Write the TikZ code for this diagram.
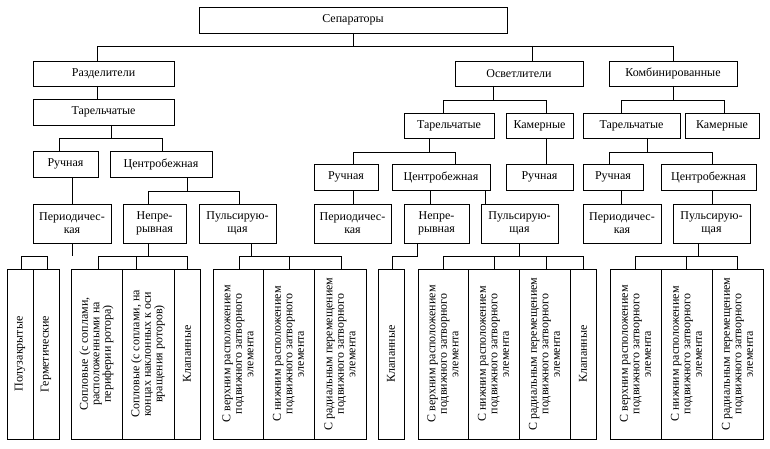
\documentclass[tikz,border=0pt]{standalone}
\usepackage{fontspec}
\setmainfont{Liberation Serif}
\begin{document}
\begin{tikzpicture}[x=1pt,y=-1pt,
  box/.style={draw,line width=0.8pt,inner sep=0pt,outer sep=0pt,align=center,
    font=\fontsize{12}{13}\selectfont},
  vbox/.style={box,rotate=90,minimum width=170pt,font=\fontsize{12}{11.5}\selectfont},
  conn/.style={line width=0.8pt}]
\fill[white] (0,0) rectangle (770,449);
\useasboundingbox (0,0) rectangle (770,449);
\newcommand\mkbox[6]{\node[box,anchor=north west,minimum width={(#4-#2)*1pt},minimum height={(#5-#3)*1pt}] (#1) at (#2,#3) {#6};}
\newcommand\mkvbox[4]{\node[vbox,minimum height={(#3-#2)*1pt}] (#1) at ({(#2+#3)/2},354) {#4};}
% level 0-1
\mkbox{sep}{199}{7}{507}{33}{Сепараторы}
\mkbox{raz}{33}{61}{174}{86}{Разделители}
\mkbox{osv}{455}{61}{583}{86}{Осветлители}
\mkbox{kom}{609}{61}{737}{86}{Комбинированные}
% level 2
\mkbox{tarA}{33}{99}{174}{125}{Тарельчатые}
\mkbox{tarB}{404}{113}{494}{138}{Тарельчатые}
\mkbox{kamB}{506}{113}{573}{138}{Камерные}
\mkbox{tarC}{583}{113}{680}{138}{Тарельчатые}
\mkbox{kamC}{685}{113}{759}{138}{Камерные}
% level 3
\mkbox{ruchA}{33}{151}{98}{177}{Ручная}
\mkbox{cenA}{110}{151}{212}{177}{Центробежная}
\mkbox{ruchB}{314}{164}{378}{190}{Ручная}
\mkbox{cenB}{392}{164}{490}{190}{Центробежная}
\mkbox{ruchK}{506}{164}{573}{190}{Ручная}
\mkbox{ruchC}{583}{164}{643}{190}{Ручная}
\mkbox{cenC}{661}{164}{756}{190}{Центробежная}
% level 4
\mkbox{perA}{33}{204}{111}{243}{Периодичес-\\кая}
\mkbox{nepA}{123}{204}{186}{243}{Непре-\\рывная}
\mkbox{pulA}{199}{204}{276}{243}{Пульсирую-\\щая}
\mkbox{perB}{314}{204}{391}{243}{Периодичес-\\кая}
\mkbox{nepB}{404}{204}{469}{243}{Непре-\\рывная}
\mkbox{pulB}{481}{204}{558}{243}{Пульсирую-\\щая}
\mkbox{perC}{583}{204}{661}{243}{Периодичес-\\кая}
\mkbox{pulC}{673}{204}{750}{243}{Пульсирую-\\щая}
% level 5 (vertical)
\mkvbox{b1}{7}{33}{Полузакрытые}
\mkvbox{b2}{33}{59}{Герметические}
\mkvbox{b3}{71}{122}{Сопловые (с соплами,\\расположенными на\\периферии ротора)}
\mkvbox{b4}{122}{174}{Сопловые (с соплами, на\\концах наклонных к оси\\вращения роторов)}
\mkvbox{b5}{174}{200}{Клапанные}
\mkvbox{b6}{213}{263}{С верхним расположением\\подвижного затворного\\элемента}
\mkvbox{b7}{263}{314}{С нижним расположением\\подвижного затворного\\элемента}
\mkvbox{b8}{314}{366}{С радиальным перемещением\\подвижного затворного\\элемента}
\mkvbox{b9}{378}{404}{Клапанные}
\mkvbox{b10}{418}{468}{С верхним расположением\\подвижного затворного\\элемента}
\mkvbox{b11}{468}{519}{С нижним расположением\\подвижного затворного\\элемента}
\mkvbox{b12}{519}{570}{С радиальным перемещением\\подвижного затворного\\элемента}
\mkvbox{b13}{570}{596}{Клапанные}
\mkvbox{b14}{610}{661}{С верхним расположением\\подвижного затворного\\элемента}
\mkvbox{b15}{661}{712}{С нижним расположением\\подвижного затворного\\элемента}
\mkvbox{b16}{712}{763}{С радиальным перемещением\\подвижного затворного\\элемента}
% connectors
\draw[conn] (sep.south) -- (353,46);
\draw[conn] (raz.north -| 97,0) |- (673,46) -- (kom.north -| 673,0);
\draw[conn] (532,46) -- (osv.north -| 532,0);
\draw[conn] (raz.south -| 97,0) -- (tarA.north -| 97,0);
\draw[conn] (tarA.south -| 111,0) -- (111,138);
\draw[conn] (ruchA.north -| 59,0) |- (162,138) -- (cenA.north -| 162,0);
\draw[conn] (ruchA.south -| 72,0) -- (perA.north -| 72,0);
\draw[conn] (cenA.south -| 187,0) -- (187,191);
\draw[conn] (nepA.north -| 148,0) |- (239,191) -- (pulA.north -| 239,0);
\draw[conn] (perA.south -| 72,0) -- (72,256);
\draw[conn] (b1.east -| 21,0) |- (47,256) -- (b2.east -| 47,0);
\draw[conn] (nepA.south -| 148,0) -- (148,256);
\draw[conn] (b3.east -| 98,0) |- (187,256) -- (b5.east -| 187,0);
\draw[conn] (136,256) -- (b4.east -| 136,0);
\draw[conn] (pulA.south -| 251,0) -- (251,256);
\draw[conn] (b6.east -| 239,0) |- (341,256) -- (b8.east -| 341,0);
\draw[conn] (289,256) -- (b7.east -| 289,0);
\draw[conn] (osv.south -| 493,0) -- (493,100);
\draw[conn] (tarB.north -| 443,0) |- (546,100) -- (kamB.north -| 546,0);
\draw[conn] (kom.south -| 673,0) -- (673,100);
\draw[conn] (tarC.north -| 621,0) |- (724,100) -- (kamC.north -| 724,0);
\draw[conn] (tarB.south -| 429,0) -- (429,152);
\draw[conn] (ruchB.north -| 353,0) |- (455,152) -- (cenB.north -| 455,0);
\draw[conn] (kamB.south -| 546,0) -- (ruchK.north -| 546,0);
\draw[conn] (tarC.south -| 647,0) -- (647,152);
\draw[conn] (ruchC.north -| 609,0) |- (712,152) -- (cenC.north -| 712,0);
\draw[conn] (ruchB.south -| 353,0) -- (perB.north -| 353,0);
\draw[conn] (cenB.south -| 430,0) -- (nepB.north -| 430,0);
\draw[conn] (cenB.south -| 485,0) -- (pulB.north -| 485,0);
\draw[conn] (ruchC.south -| 621,0) -- (perC.north -| 621,0);
\draw[conn] (cenC.south -| 712,0) -- (pulC.north -| 712,0);
\draw[conn] (nepB.south -| 417,0) |- (392,256) -- (b9.east -| 392,0);
\draw[conn] (pulB.south -| 519,0) -- (519,256);
\draw[conn] (b10.east -| 443,0) |- (583,256) -- (b13.east -| 583,0);
\draw[conn] (494,256) -- (b11.east -| 494,0);
\draw[conn] (546,256) -- (b12.east -| 546,0);
\draw[conn] (pulC.south -| 698,0) -- (698,256);
\draw[conn] (b14.east -| 635,0) |- (737,256) -- (b16.east -| 737,0);
\draw[conn] (686,256) -- (b15.east -| 686,0);
\end{tikzpicture}
\end{document}
